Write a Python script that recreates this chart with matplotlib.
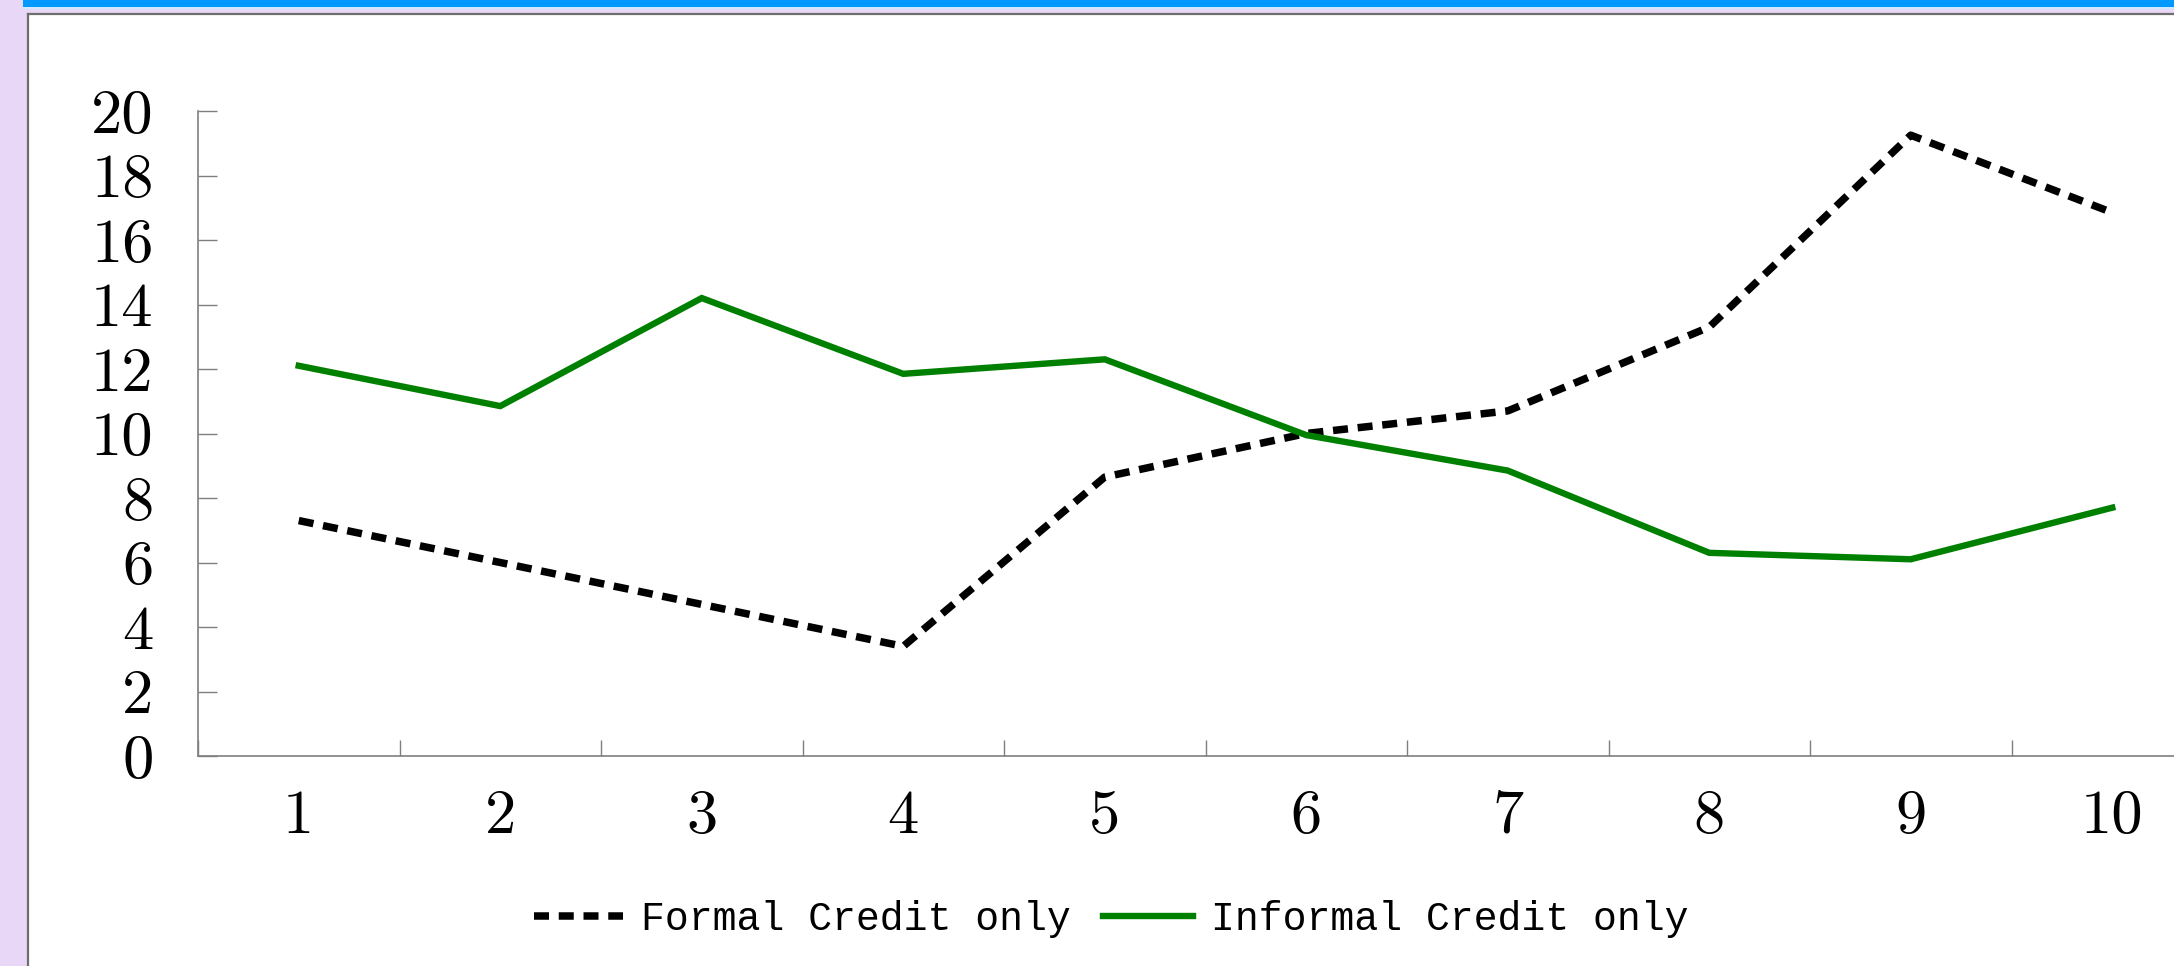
import matplotlib
matplotlib.use("Agg")
import matplotlib.pyplot as plt
from matplotlib.patches import Rectangle
from matplotlib.lines import Line2D

# ---- data ----
categories = ['1', '2', '3', '4', '5', '6', '7', '8', '9', '10']
formal_credit = [7.3, 6.0, 4.7, 3.4, 8.65, 10.0, 10.7, 13.3, 19.25, 16.85]
informal_credit = [12.1, 10.85, 14.2, 11.85, 12.3, 9.95, 8.85, 6.3, 6.1, 7.7]
series_names = ['Formal Credit only', 'Informal Credit only']
y_ticks = [0, 2, 4, 6, 8, 10, 12, 14, 16, 18, 20]

W, H = 2174, 966
fig = plt.figure(figsize=(W / 100, H / 100), dpi=100)
fig.patch.set_facecolor('#E8D7F7')

def fx(px):
    return px / W

def fy(py):
    return 1 - py / H

# slide-like frame
fig.add_artist(Rectangle((fx(23), fy(7)), 1, 7 / H, transform=fig.transFigure,
                         facecolor='#0099FF', edgecolor='none', zorder=0))
fig.add_artist(Rectangle((fx(23), fy(9)), 1, 2 / H, transform=fig.transFigure,
                         facecolor='#CFE8FF', edgecolor='none', zorder=0))
fig.add_artist(Rectangle((fx(28), 0), 1, fy(14), transform=fig.transFigure,
                         facecolor='white', edgecolor='none', zorder=0))
fig.add_artist(Line2D([fx(28), fx(28)], [0, fy(14)], transform=fig.transFigure,
                      color='#6E6E6E', lw=1.6, zorder=1))
fig.add_artist(Line2D([fx(28), 1], [fy(14), fy(14)], transform=fig.transFigure,
                      color='#6E6E6E', lw=1.6, zorder=1))

# axes: left x=198, bottom y=756, top y=111, right (clipped) x=2213
ax = fig.add_axes([fx(198), fy(756), (2213 - 198) / W, (756 - 111) / H])
ax.set_facecolor('none')
x = list(range(1, len(categories) + 1))

ax.plot(x, formal_credit, color='black', lw=5.4, linestyle=(0, (2.0, 1.3)),
        dash_capstyle='butt', solid_joinstyle='miter', label=series_names[0],
        clip_on=False)
ax.plot(x, informal_credit, color='#008000', lw=4.6, solid_joinstyle='miter',
        label=series_names[1], clip_on=False)

ax.set_xlim(0.5, len(categories) + 0.5)
ax.set_ylim(0, 20)

for s in ['top', 'right']:
    ax.spines[s].set_visible(False)
for s in ['left', 'bottom']:
    ax.spines[s].set_color('#7F7F7F')
    ax.spines[s].set_linewidth(1.2)

tick_font = dict(family='cmr10', size=45)
ax.set_yticks(y_ticks)
ax.set_yticklabels([str(v) for v in y_ticks], fontdict=tick_font)
ax.tick_params(axis='y', direction='in', length=13.7, width=1.0, color='#7F7F7F', pad=32)

ax.set_xticks(x)
ax.set_xticklabels(categories, fontdict=tick_font)
ax.set_xticks([i + 0.5 for i in range(0, len(categories))], minor=True)
ax.tick_params(axis='x', which='major', length=0, pad=24)
ax.tick_params(axis='x', which='minor', direction='in', length=11.5, width=1.0, color='#7F7F7F')

leg = ax.legend(loc='center', bbox_to_anchor=(fx(1111), fy(919)),
                bbox_transform=fig.transFigure, ncol=2, frameon=False,
                prop=dict(family='Liberation Mono', size=28.7),
                handlelength=2.25, handletextpad=0.45, columnspacing=0.8)

fig.savefig('out.png', dpi=100, facecolor=fig.get_facecolor())
